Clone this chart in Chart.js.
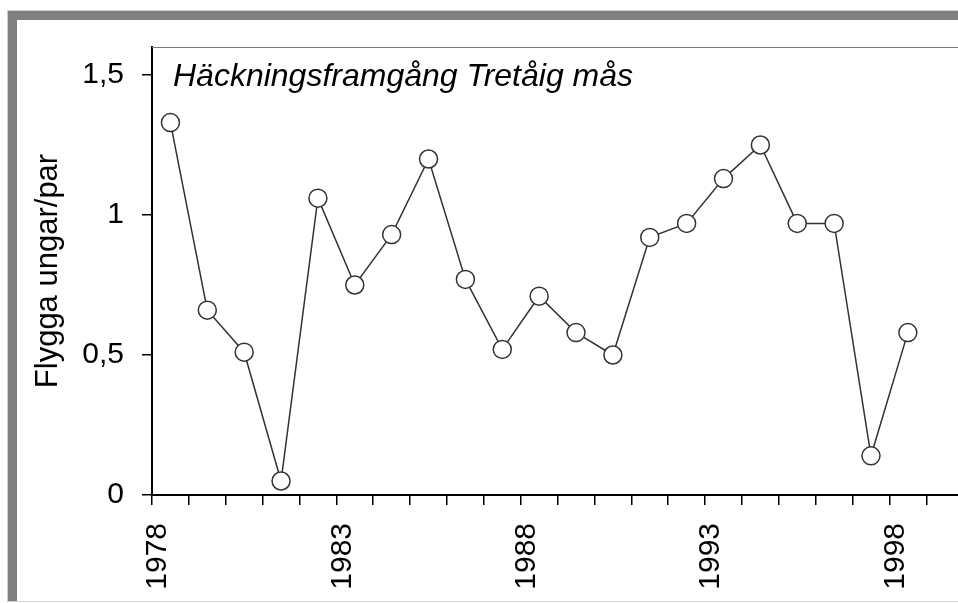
<!DOCTYPE html>
<html>
<head>
<meta charset="utf-8">
<script src="https://cdn.jsdelivr.net/npm/chart.js@4/dist/chart.umd.min.js"></script>
<style>
  html, body { margin: 0; padding: 0; background: #fff; overflow: hidden; width: 958px; height: 603px; }
  #wrap { position: absolute; left: 0; top: 0; width: 958px; height: 603px; }
  #edge { position: absolute; left: 7px; top: 10px; right: -20px; bottom: 1px;
          border-top: 1px solid #cfcfcf; border-left: 1px solid #cfcfcf; border-bottom: 1px solid #d4d4d4; }
  #frame { position: absolute; left: 8px; top: 11px; right: -20px; bottom: 2px;
           border-top: 9px solid #808080; border-left: 9px solid #808080; }
</style>
</head>
<body>
<div id="edge"></div>
<div id="frame"></div>
<div id="wrap"><canvas id="chart" width="958" height="603"></canvas></div>
<script>
var years = [1978, 1979, 1980, 1981, 1982, 1983, 1984, 1985, 1986, 1987, 1988,
  1989, 1990, 1991, 1992, 1993, 1994, 1995, 1996, 1997, 1998]
var values = [1.33, 0.66, 0.51, 0.05, 1.06, 0.75, 0.93, 1.2, 0.77, 0.52, 0.71,
  0.58, 0.5, 0.92, 0.97, 1.13, 1.25, 0.97, 0.97, 0.14, 0.58]
var xTicks = [1978, 1979, 1980, 1981, 1982, 1983, 1984, 1985, 1986, 1987, 1988,
  1989, 1990, 1991, 1992, 1993, 1994, 1995, 1996, 1997, 1998, 1999]
var xLabels = ['1978', '1983', '1988', '1993', '1998']
var yTicks = [0, 0.5, 1, 1.5]
var yLabels = ['0', '0,5', '1', '1,5']
var titleText = 'Häckningsframgång Tretåig mås'
var yTitle = 'Flygga ungar/par'

// the original axis runs on past the cropped right edge
var xMin = 1978
var xMax = 1999.86

Chart.defaults.font.family = '"Liberation Sans", Arial, sans-serif'
Chart.defaults.color = '#000'

// each year's value sits in the middle of its year
var points = []
for (var i = 0; i < years.length; i++) {
  points.push({x: years[i] + 0.5, y: values[i]})
}

var innerTitle = {
  id: 'innerTitle',
  afterDraw: function (chart) {
    var ctx = chart.ctx
    var area = chart.chartArea
    ctx.save()
    // top edge of the plot box
    ctx.strokeStyle = '#7a7a7a'
    ctx.lineWidth = 1
    ctx.beginPath()
    ctx.moveTo(area.left, area.top + 0.5)
    ctx.lineTo(chart.width, area.top + 0.5)
    ctx.stroke()
    ctx.fillStyle = '#000'
    ctx.font = 'italic 32px "Liberation Sans", Arial, sans-serif'
    ctx.textBaseline = 'alphabetic'
    ctx.fillText(titleText, area.left + 21, area.top + 39)
    ctx.restore()
  }
}

new Chart(document.getElementById('chart').getContext('2d'), {
  type: 'line',
  data: {
    datasets: [{
      data: points,
      borderColor: '#333',
      borderWidth: 1.5,
      pointRadius: 9,
      pointBackgroundColor: '#fff',
      pointBorderColor: '#333',
      pointBorderWidth: 1.5,
      tension: 0,
      clip: false
    }]
  },
  options: {
    responsive: false,
    animation: false,
    devicePixelRatio: 1,
    layout: {autoPadding: false, padding: {left: 20, top: 47, right: 0, bottom: 0}},
    plugins: {legend: {display: false}, tooltip: {enabled: false}},
    scales: {
      x: {
        type: 'linear',
        min: xMin,
        max: xMax,
        afterBuildTicks: function (scale) {
          scale.ticks = xTicks.map(function (v) { return {value: v} })
        },
        afterFit: function (scale) {
          scale.height = 108
          scale.paddingLeft = 0
          scale.paddingRight = 0
        },
        grid: {drawOnChartArea: false, tickLength: 10, color: '#000', lineWidth: 1.5},
        border: {color: '#000', width: 2},
        ticks: {
          autoSkip: false,
          minRotation: 90,
          maxRotation: 90,
          padding: 18,
          labelOffset: 6,
          font: {size: 30},
          callback: function (v) {
            return xLabels.indexOf(String(v)) >= 0 ? String(v) : ''
          }
        }
      },
      y: {
        min: 0,
        max: 1.6,
        afterBuildTicks: function (scale) {
          scale.ticks = yTicks.map(function (v) { return {value: v} })
        },
        afterFit: function (scale) {
          scale.width = 132
          scale.paddingTop = 0
          scale.paddingBottom = 0
        },
        grid: {drawOnChartArea: false, tickLength: 10, color: '#000', lineWidth: 1.5},
        border: {color: '#000', width: 2},
        ticks: {
          padding: 18,
          font: {size: 30},
          callback: function (v) { return yLabels[yTicks.indexOf(v)] }
        },
        title: {
          display: true,
          text: yTitle,
          font: {size: 31},
          padding: {top: 10, bottom: 0}
        }
      }
    }
  },
  plugins: [innerTitle]
})
</script>
</body>
</html>
